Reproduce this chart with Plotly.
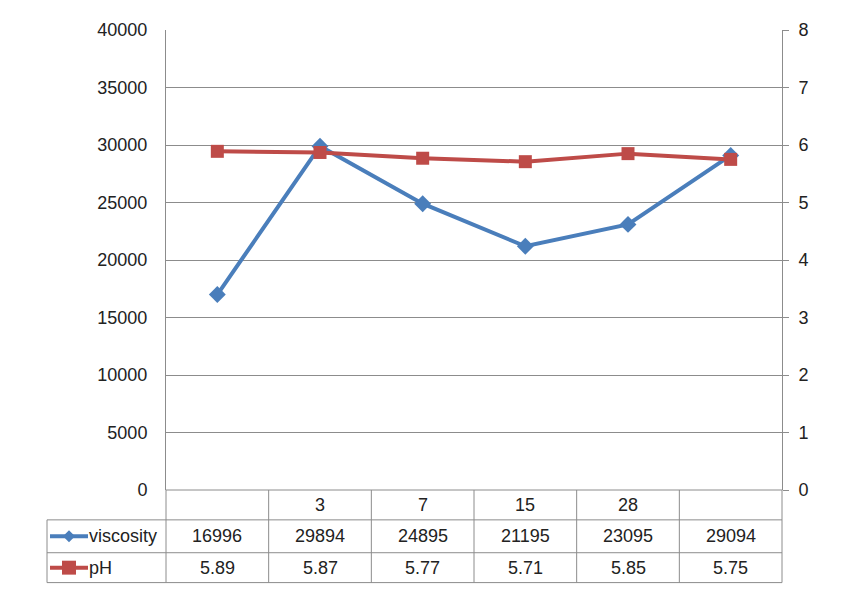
import plotly.graph_objects as go

categories = ["", "3", "7", "15", "28", ""]
viscosity = [16996, 29894, 24895, 21195, 23095, 29094]
ph = [5.89, 5.87, 5.77, 5.71, 5.85, 5.75]
series_names = ["viscosity", "pH"]
left_ticks = [0, 5000, 10000, 15000, 20000, 25000, 30000, 35000, 40000]
right_ticks = [0, 1, 2, 3, 4, 5, 6, 7, 8]

BLUE = "#4A7EBB"
RED = "#BE4B48"
GRID = "#8C8C8C"
FONT = "Liberation Sans"

OFF = 8  # page body margin
W, H = 828, 584
# target plot area in page pixels
PL, PR, PT, PB = 166, 782, 28, 490
L = PL - OFF
T = PT - OFF
R = OFF + W - PR
B = OFF + H - PB
pw = PR - PL
ph_px = PB - PT

x = list(range(len(categories)))

fig = go.Figure()
fig.add_trace(go.Scatter(
    x=x, y=viscosity, name=series_names[0], mode="lines+markers",
    line=dict(color=BLUE, width=4),
    marker=dict(symbol="diamond", size=13, color=BLUE),
    yaxis="y", cliponaxis=False))
fig.add_trace(go.Scatter(
    x=x, y=ph, name=series_names[1], mode="lines+markers",
    line=dict(color=RED, width=4),
    marker=dict(symbol="square", size=13, color=RED),
    yaxis="y2", cliponaxis=False))

# table geometry in page pixels
row_top = 490
row1 = 520
row2 = 553
row3 = 583
leg_left = 47

def px_x(p):
    return (p - PL) / pw

def px_y(p):
    return (PB - p) / ph_px

shapes = []
line_style = dict(color=GRID, width=1)
for yy in (row1, row2, row3):
    shapes.append(dict(type="line", xref="paper", yref="paper",
                       x0=px_x(leg_left), x1=1, y0=px_y(yy), y1=px_y(yy), line=line_style))
n = len(categories)
for i in range(n + 1):
    shapes.append(dict(type="line", xref="paper", yref="paper",
                       x0=i / n, x1=i / n, y0=px_y(row_top), y1=px_y(row3), line=line_style))
shapes.append(dict(type="line", xref="paper", yref="paper",
                   x0=px_x(leg_left), x1=px_x(leg_left), y0=px_y(row1), y1=px_y(row3), line=line_style))
shapes.append(dict(type="line", xref="paper", yref="paper", x0=0, x1=1, y0=0, y1=0, line=line_style))

rows_y = [(row1 + row2) / 2, (row2 + row3) / 2]
colors = [BLUE, RED]
for k, (yy, c) in enumerate(zip(rows_y, colors)):
    shapes.append(dict(type="line", xref="paper", yref="paper",
                       x0=px_x(50), x1=px_x(88), y0=px_y(yy), y1=px_y(yy),
                       line=dict(color=c, width=4)))
    cx = 69
    if k == 0:
        path = "M {} {} L {} {} L {} {} L {} {} Z".format(
            px_x(cx - 6), px_y(yy), px_x(cx), px_y(yy - 6),
            px_x(cx + 6), px_y(yy), px_x(cx), px_y(yy + 6))
        shapes.append(dict(type="path", xref="paper", yref="paper", path=path,
                           fillcolor=c, line=dict(color=c, width=0)))
    else:
        shapes.append(dict(type="rect", xref="paper", yref="paper",
                           x0=px_x(cx - 7), x1=px_x(cx + 7), y0=px_y(yy - 7), y1=px_y(yy + 7),
                           fillcolor=c, line=dict(color=c, width=0)))

annotations = []
tfont = dict(family=FONT, size=18, color="#222222")
for name, yy in zip(series_names, rows_y):
    annotations.append(dict(text=name, xref="paper", yref="paper", x=px_x(87), y=px_y(yy),
                            xanchor="left", yanchor="middle", showarrow=False, font=tfont))
for i in range(n):
    annotations.append(dict(text=str(viscosity[i]), xref="x", yref="paper", x=x[i], y=px_y(rows_y[0]),
                            xanchor="center", yanchor="middle", showarrow=False, font=tfont))
    annotations.append(dict(text="{:.2f}".format(ph[i]), xref="x", yref="paper", x=x[i], y=px_y(rows_y[1]),
                            xanchor="center", yanchor="middle", showarrow=False, font=tfont))
    annotations.append(dict(text=categories[i], xref="x", yref="paper", x=x[i], y=px_y((row_top + row1) / 2),
                            xanchor="center", yanchor="middle", showarrow=False, font=tfont))

fig.update_layout(
    width=W, height=H,
    margin=dict(l=L, r=R, t=T, b=B),
    paper_bgcolor="white", plot_bgcolor="white",
    showlegend=False,
    shapes=shapes, annotations=annotations,
    font=dict(family=FONT, size=18, color="#222222"),
    xaxis=dict(range=[-0.5, n - 0.5], showgrid=False, zeroline=False,
               showticklabels=False, showline=False, ticks="", fixedrange=True),
    yaxis=dict(range=[0, 40000], tickvals=left_ticks, ticktext=[str(v) for v in left_ticks],
               showgrid=True, gridcolor=GRID, gridwidth=1, zeroline=False,
               showline=True, linecolor=GRID, linewidth=1, ticks="",
               ticklabelstandoff=14, tickfont=tfont),
    yaxis2=dict(range=[0, 8], tickvals=right_ticks, overlaying="y", side="right",
                showgrid=False, zeroline=False, showline=True, linecolor=GRID, linewidth=1,
                ticks="outside", ticklen=6, tickcolor=GRID,
                ticklabelstandoff=6, tickfont=tfont),
)

fig.write_html("out.html")
